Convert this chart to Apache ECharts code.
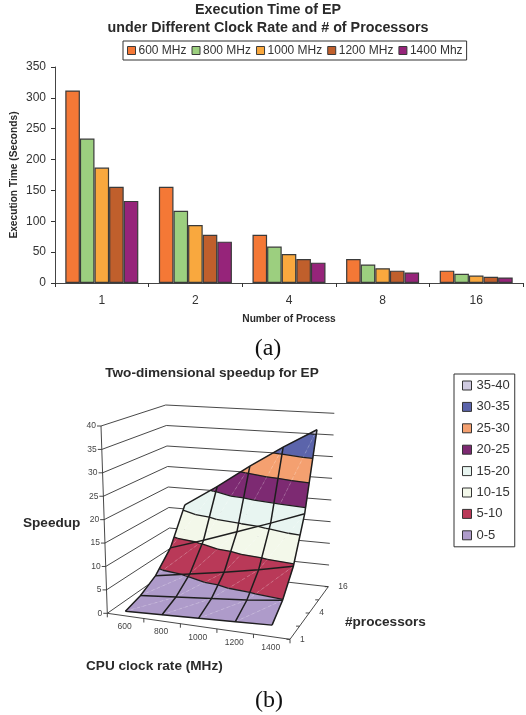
<!DOCTYPE html>
<html><head><meta charset="utf-8">
<style>html,body{margin:0;padding:0;background:#fff}#c{width:526px;height:715px}</style>
<script src="https://cdn.jsdelivr.net/npm/echarts@6/dist/echarts.min.js"></script>
</head><body><div id="c"></div>
<script>
// ---------- data: panel (a) ----------
const processCounts = ['1','2','4','8','16'];
const clockNames = ['600 MHz','800 MHz','1000 MHz','1200 MHz','1400 Mhz'];
const time600  = [312,156,78,39,20];
const time800  = [234,117,59,30,15];
const time1000 = [187,94,47,24,12];
const time1200 = [156,78,39,20,10];
const time1400 = [133,67,33,17,9];
// ---------- data: panel (b) ----------
const clockTicks = ['600','800','1000','1200','1400'];
const procTicks = ['1','','4','','16'];
const speedTicks = [0,5,10,15,20,25,30,35,40];
const speedup1  = [1.0,1.33,1.67,2.0,2.33];
const speedup2  = [2.0,2.67,3.33,4.0,4.9];
const speedup4  = [4.0,5.3,6.6,8.0,9.6];
const speedup8  = [8.0,10.6,13.3,16.0,18.8];
const speedup16 = [16.0,21.0,26.5,31.5,36.0];
const bandNames = ['35-40','30-35','25-30','20-25','15-20','10-15','5-10','0-5'];
const bandLows  = [35,30,25,20,15,10,5,0];

const barColors = ['#f47836','#9ccf7f','#f9a83e','#c05f2c','#96247a'];
const bandColors = ['#cfcae0','#5b64ab','#f4a070','#7d2a72','#e8f5f1','#f3f8ea','#b93958','#ae9bca'];
const ink = '#2a2a2a';
const sans = '"Liberation Sans", Arial, sans-serif';

// view of the 3D box: corners of the unit cube on the page
const view = {
  A:[107.3,613.3], B:[290,639.3], C:[328.3,586.7], D:[170.7,569],
  E:[101,426], F:[296.7,439.3], G:[334.3,413.3], H:[165.7,405]
};
const speedMax = 40;
function project(a,b,c){
  const mix = (k)=>{
    const f=view.A[k]*(1-a)*(1-b)+view.B[k]*a*(1-b)+view.C[k]*a*b+view.D[k]*(1-a)*b;
    const t=view.E[k]*(1-a)*(1-b)+view.F[k]*a*(1-b)+view.G[k]*a*b+view.H[k]*(1-a)*b;
    return f*(1-c)+t*c;
  };
  return [mix(0),mix(1)];
}
const speedups = [speedup1,speedup2,speedup4,speedup8,speedup16];
const colPos = i => 0.1+0.2*i;
const rowPos = j => j/4;
const surf = (p)=>project(p.a,p.b,p.z/speedMax);
const vert = (j,i)=>({a:colPos(i),b:rowPos(j),z:speedups[j][i]});

// triangles of the surface (split along the faint diagonal)
const triangles = [];
for(let j=3;j>=0;j--) for(let i=0;i<4;i++){
  triangles.push([vert(j,i),vert(j,i+1),vert(j+1,i+1)]);
  triangles.push([vert(j,i),vert(j+1,i+1),vert(j+1,i)]);
}
const at=(p,q,t)=>{const s=(t-p.z)/(q.z-p.z);return {a:p.a+(q.a-p.a)*s,b:p.b+(q.b-p.b)*s,z:t};};
function clip(poly,t,keepAbove){
  const out=[];
  poly.forEach((p,n)=>{
    const q=poly[(n+1)%poly.length];
    const pin=keepAbove?p.z>=t:p.z<=t, qin=keepAbove?q.z>=t:q.z<=t;
    if(pin) out.push(p);
    if(pin!==qin) out.push(at(p,q,t));
  });
  return out;
}
function bandPieces(lo){
  const res=[];
  triangles.forEach(tr=>{
    const poly=clip(clip(tr,lo,true),lo+5,false);
    if(poly.length>2) res.push(poly);
  });
  return res;
}
const contours=[];
bandLows.filter(v=>v>0).forEach(t=>{
  triangles.forEach(tr=>{
    const pts=[];
    tr.forEach((p,n)=>{const q=tr[(n+1)%3]; if((p.z<t)!==(q.z<t)) pts.push(at(p,q,t));});
    if(pts.length===2) contours.push(pts);
  });
});

function polyEl(api,pts,style,z2){
  return {type:'polyline',z2:z2||0,shape:{points:pts.map(p=>api.coord(p))},style:Object.assign({fill:null},style)};
}
function txt(api,p,text,align,vAlign,size,color){
  const c=api.coord(p);
  return {type:'text',z2:5,style:{x:c[0],y:c[1],text:text,align:align,verticalAlign:vAlign,fill:color||'#444',font:size+'px '+sans}};
}
const wallStyle={stroke:'#333',lineWidth:0.9};
function renderBox(params,api){
  const ch=[];
  // wall lines at each speedup level
  speedTicks.forEach(v=>{
    const c=v/speedMax;
    ch.push(polyEl(api,[project(0,0,c),project(0,1,c),project(1,1,c)],wallStyle));
    ch.push(polyEl(api,[[project(0,0,c)[0]-4,project(0,0,c)[1]],project(0,0,c)],wallStyle));
    const l=project(0,0,c);
    ch.push(txt(api,[l[0]-5,l[1]],String(v),'right','middle',8.5));
  });
  ch.push(polyEl(api,[project(0,0,0),project(0,0,1)],wallStyle));
  ch.push(polyEl(api,[project(0,0,0),project(1,0,0),project(1,1,0)],wallStyle));
  for(let i=0;i<=5;i++){
    const p=project(i/5,0,0);
    ch.push(polyEl(api,[p,[p[0],p[1]+4]],wallStyle));
  }
  clockTicks.forEach((t,i)=>{
    const p=project(colPos(i),0,0);
    ch.push(txt(api,[p[0]-1,p[1]+11],t,'center','middle',8.5));
  });
  procTicks.forEach((t,j)=>{
    const p=project(1,rowPos(j),0);
    ch.push(polyEl(api,[[p[0]-3.5,p[1]],p],wallStyle));
    if(t) ch.push(txt(api,[p[0]+10,p[1]],t,'left','middle',8.5));
  });
  return {type:'group',children:ch};
}
function renderBand(pieces,color){
  return function(params,api){
    const poly=pieces[params.dataIndex];
    return {type:'polygon',shape:{points:poly.map(p=>api.coord(surf(p)))},
      style:{fill:color,stroke:color,lineWidth:0.4}};
  };
}
function renderLines(params,api){
  const ch=[];
  const lineStyle={stroke:'#1e1e1e',lineWidth:1.5};
  triangles.forEach((tr,n)=>{
    if(n%2===0) ch.push(polyEl(api,[surf(tr[0]),surf(tr[2])],{stroke:'rgba(255,255,255,0.35)',lineWidth:0.6,lineDash:[3,3]}));
  });
  contours.forEach(c=>ch.push(polyEl(api,c.map(surf),{stroke:'#1e1e1e',lineWidth:1.3})));
  speedups.forEach((row,j)=>{
    ch.push(polyEl(api,row.map((z,i)=>surf(vert(j,i))),lineStyle));
  });
  clockTicks.forEach((t,i)=>{
    ch.push(polyEl(api,speedups.map((r,j)=>surf(vert(j,i))),lineStyle));
  });
  return {type:'group',children:ch};
}

const barValues=[time600,time800,time1000,time1200,time1400];
const barSeries=clockNames.map((n,k)=>({
  type:'bar',name:n,data:barValues[k],barGap:0,barCategoryGap:'22%',
  itemStyle:{color:barColors[k],borderColor:'#3a3a3a',borderWidth:1.2},
  xAxisIndex:0,yAxisIndex:0,silent:true
}));
const bandSeries=bandNames.map((n,k)=>{
  const pieces=bandPieces(bandLows[k]);
  return {type:'custom',name:n,coordinateSystem:'cartesian2d',xAxisIndex:1,yAxisIndex:1,clip:false,silent:true,z:3,
    itemStyle:{color:bandColors[k]},
    data:pieces.map((p,i)=>[i,0]),renderItem:renderBand(pieces,bandColors[k])};
});
const titleText=(text,left,top,size,extra)=>Object.assign({text:text,left:left,top:top,padding:0,
  textStyle:{fontFamily:sans,fontWeight:'bold',fontSize:size,color:ink,lineHeight:18}},extra||{});

const option={
  animation:false,
  backgroundColor:'#fff',
  textStyle:{fontFamily:sans},
  title:[
    titleText('Execution Time of EP\nunder Different Clock Rate and # of Processors',268,1,14.3,{textAlign:'center'}),
    titleText('Two-dimensional speedup for EP',212,364,13.6,{textAlign:'center'}),
    titleText('Speedup',23,514,13.6),
    titleText('#processors',345,613,13.6),
    titleText('CPU clock rate (MHz)',86,657,13.6),
    {text:'(a)',left:268,top:337,textAlign:'center',padding:0,textStyle:{fontFamily:'"Liberation Serif",serif',fontWeight:'normal',fontSize:24,color:'#111'}},
    {text:'(b)',left:269,top:689,textAlign:'center',padding:0,textStyle:{fontFamily:'"Liberation Serif",serif',fontWeight:'normal',fontSize:24,color:'#111'}}
  ],
  legend:[
    {data:clockNames,left:123,top:41,orient:'horizontal',icon:'rect',itemWidth:8,itemHeight:8,itemGap:5,
     padding:[3.5,4,3.5,4],borderColor:'#333',borderWidth:1,selectedMode:false,
     itemStyle:{borderColor:'#3a3a3a',borderWidth:1},
     textStyle:{fontFamily:sans,fontSize:12,color:'#333',padding:[0,0,0,-2]}},
    {data:bandNames,left:454,top:374,orient:'vertical',icon:'rect',itemWidth:9,itemHeight:9,itemGap:8.4,
     padding:[5,5,5,8],borderColor:'#333',borderWidth:1,selectedMode:false,
     itemStyle:{borderColor:'#333',borderWidth:1},
     textStyle:{fontFamily:sans,fontSize:13,color:'#333'}}
  ],
  grid:[
    {left:55,right:3,top:67,bottom:432,outerBoundsMode:'none'},
    {left:0,right:0,top:0,bottom:0,outerBoundsMode:'none'}
  ],
  xAxis:[
    {type:'category',gridIndex:0,data:processCounts,
     name:'Number of Process',nameLocation:'middle',nameGap:31,nameMoveOverlap:false,
     nameTextStyle:{fontFamily:sans,fontWeight:'bold',fontSize:10.2,color:ink},
     axisLine:{lineStyle:{color:'#444',width:1}},axisTick:{show:true,alignWithLabel:false,length:4,lineStyle:{color:'#333'}},
     axisLabel:{fontSize:12,color:'#333',margin:12}},
    {type:'value',gridIndex:1,min:0,max:526,show:false}
  ],
  yAxis:[
    {type:'value',gridIndex:0,min:0,max:350,interval:50,
     name:'Execution Time (Seconds)',nameLocation:'middle',nameGap:36,nameMoveOverlap:false,
     nameTextStyle:{fontFamily:sans,fontWeight:'bold',fontSize:10.2,color:ink},
     axisLine:{show:true,lineStyle:{color:'#444',width:1}},axisTick:{show:true,length:4,lineStyle:{color:'#333'}},
     splitLine:{show:false},axisLabel:{fontSize:12,color:'#333',margin:9}},
    {type:'value',gridIndex:1,min:0,max:715,inverse:true,show:false}
  ],
  series:[
    ...barSeries,
    {type:'custom',name:'box',coordinateSystem:'cartesian2d',xAxisIndex:1,yAxisIndex:1,clip:false,silent:true,z:2,
     data:[[0,0]],renderItem:renderBox},
    ...bandSeries,
    {type:'custom',name:'mesh',coordinateSystem:'cartesian2d',xAxisIndex:1,yAxisIndex:1,clip:false,silent:true,z:4,
     data:[[0,0]],renderItem:renderLines}
  ]
};
const chart=echarts.init(document.getElementById('c'));
chart.setOption(option);
</script></body></html>
